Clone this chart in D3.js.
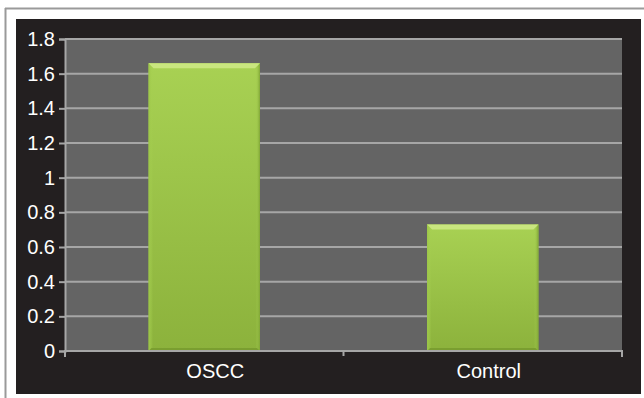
<!DOCTYPE html>
<html><head><meta charset="utf-8">
<script src="https://cdn.jsdelivr.net/npm/d3@7"></script>
<style>body{margin:0;background:#fff}svg{display:block}</style>
</head><body>
<script>
const categories = ["OSCC", "Control"];
const values = [1.66, 0.73];
const yTicks = [0, 0.2, 0.4, 0.6, 0.8, 1, 1.2, 1.4, 1.6, 1.8];

const W = 644, H = 398;
const svg = d3.select("body").append("svg").attr("width", W).attr("height", H);

// outer frame
svg.append("line").attr("x1",5.5).attr("x2",5.5).attr("y1",8).attr("y2",H).attr("stroke","#9a9a9a").attr("stroke-width",2);
svg.append("line").attr("x1",5).attr("x2",W).attr("y1",8.5).attr("y2",8.5).attr("stroke","#9a9a9a").attr("stroke-width",2);
// dark background
svg.append("rect").attr("x",16).attr("y",19).attr("width",625).attr("height",375).attr("fill","#231f20");

const m = {l:65, r:622, t:39, b:351};
const x = d3.scaleBand().domain(categories).range([m.l, m.r]).paddingInner(0.6).paddingOuter(0.3);
const xb = d3.scaleBand().domain(categories).range([m.l, m.r]);
const y = d3.scaleLinear().domain([0, 1.8]).range([m.b, m.t]);

svg.append("rect").attr("x",m.l).attr("y",m.t).attr("width",m.r-m.l).attr("height",m.b-m.t).attr("fill","#646464");

// gridlines
svg.append("g").selectAll("line").data(yTicks.filter(d=>d>0)).join("line")
  .attr("x1",m.l).attr("x2",m.r).attr("y1",d=>y(d)).attr("y2",d=>y(d))
  .attr("stroke","#a6a6a6").attr("stroke-width",2);

// gradient
const defs = svg.append("defs");
const g = defs.append("linearGradient").attr("id","bg").attr("x1",0).attr("x2",0).attr("y1",0).attr("y2",1);
g.append("stop").attr("offset","0%").attr("stop-color","#a8d153");
g.append("stop").attr("offset","100%").attr("stop-color","#8cb23c");
const gl = defs.append("linearGradient").attr("id","edge").attr("x1",0).attr("x2",1);
gl.append("stop").attr("offset","0%").attr("stop-color","#9cc648");
gl.append("stop").attr("offset","4%").attr("stop-color","#a8d153").attr("stop-opacity",0);
gl.append("stop").attr("offset","96%").attr("stop-color","#a8d153").attr("stop-opacity",0);
gl.append("stop").attr("offset","100%").attr("stop-color","#7fa535");
const bw = x.bandwidth();
const bars = svg.append("g").selectAll("g").data(categories).join("g");
bars.append("rect").attr("x",d=>x(d)).attr("y",(d,i)=>y(values[i])).attr("width",bw)
  .attr("height",(d,i)=>y(0)-y(values[i])).attr("fill","url(#bg)");
bars.append("rect").attr("x",d=>x(d)).attr("y",(d,i)=>y(values[i])).attr("width",bw)
  .attr("height",(d,i)=>y(0)-y(values[i])).attr("fill","url(#edge)");
// top bevel highlight
bars.append("path").attr("d",(d,i)=>{
  const x0=x(d), x1=x(d)+bw, yt=y(values[i]);
  return `M${x0},${yt}L${x1},${yt}L${x1-5},${yt+5}L${x0+5},${yt+5}Z`;
}).attr("fill","#c9e67f");
// bottom bevel
bars.append("path").attr("d",(d,i)=>{
  const x0=x(d), x1=x(d)+bw, yb=y(0);
  return `M${x0},${yb}L${x1},${yb}L${x1-3},${yb-3}L${x0+3},${yb-3}Z`;
}).attr("fill","#7a9e30");

// y axis
const ya = svg.append("g").attr("transform",`translate(${m.l},0)`)
  .call(d3.axisLeft(y).tickValues(yTicks).tickFormat(d=>d3.format("")(d)).tickSize(6).tickPadding(4));
ya.select(".domain").attr("stroke","#a6a6a6").attr("stroke-width",2);
ya.selectAll(".tick line").attr("stroke","#a6a6a6").attr("stroke-width",2);
ya.selectAll("text").attr("fill","#fff").style("font-family","Liberation Sans, Arial, sans-serif").style("font-size","20px");

// x axis
const labelShift = [11, 6];
const xa = svg.append("g").attr("transform",`translate(0,${m.b})`)
  .call(d3.axisBottom(xb).tickSize(0).tickPadding(13));
xa.select(".domain").attr("stroke","#a6a6a6").attr("stroke-width",2).attr("d",`M${m.l},6V0H${m.r}V6`);
xa.selectAll("text").attr("fill","#fff").attr("dx",(d,i)=>labelShift[i])
  .style("font-family","Liberation Sans, Arial, sans-serif").style("font-size","20px");
svg.append("line").attr("x1",(m.l+m.r)/2).attr("x2",(m.l+m.r)/2).attr("y1",m.b).attr("y2",m.b+5).attr("stroke","#a6a6a6").attr("stroke-width",2);
</script>
</body></html>
